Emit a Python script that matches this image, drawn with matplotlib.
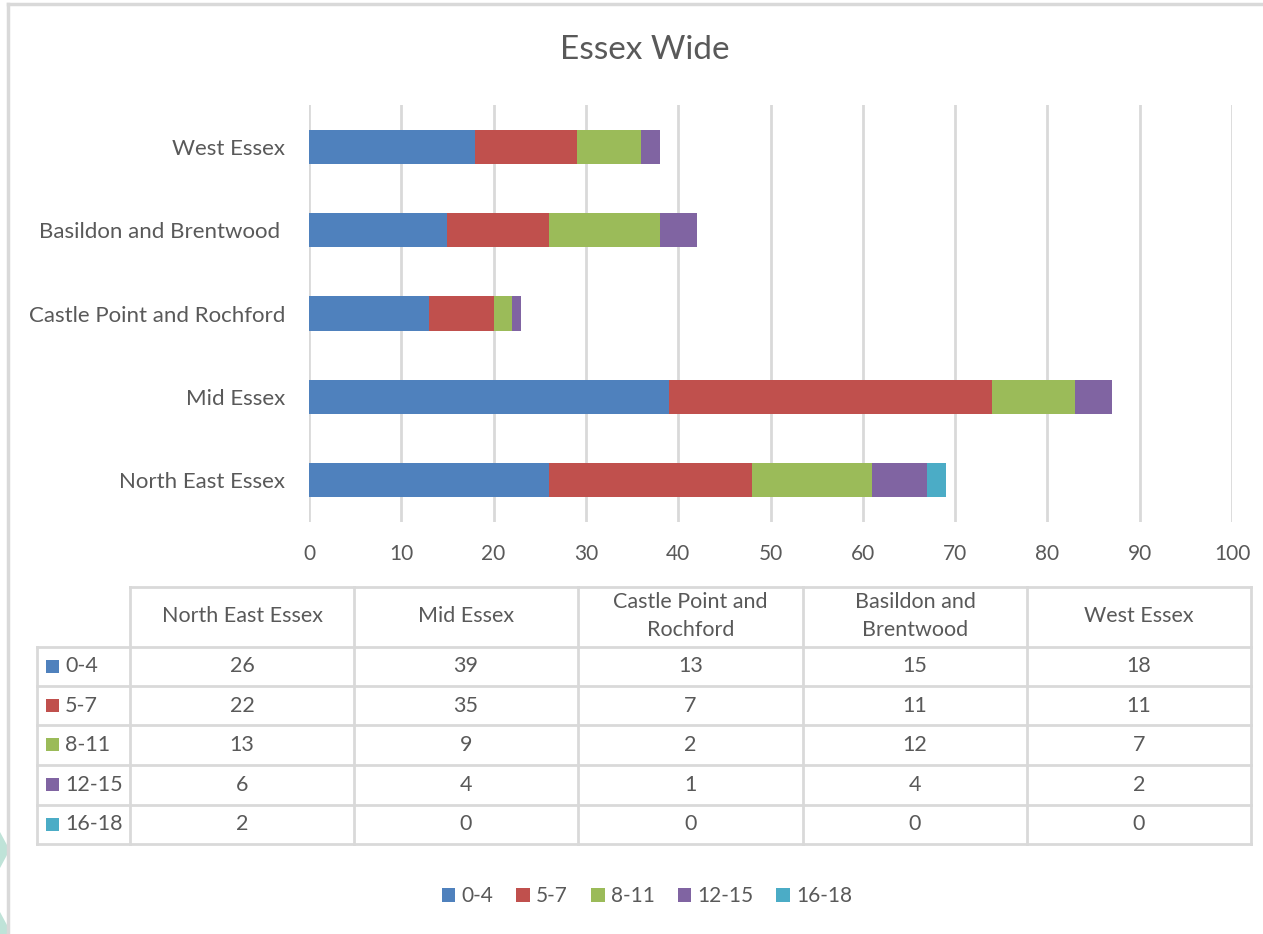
import matplotlib
matplotlib.use("Agg")
import matplotlib.pyplot as plt
from matplotlib.lines import Line2D
from matplotlib.patches import Rectangle, Polygon
import numpy as np

plt.rcParams['font.family'] = ['Lato', 'DejaVu Sans']

# ---------------- data ----------------
regions = ["North East Essex", "Mid Essex", "Castle Point and Rochford",
           "Basildon and Brentwood ", "West Essex"]
table_headers = ["North East Essex", "Mid Essex", "Castle Point and\nRochford",
                 "Basildon and\nBrentwood", "West Essex"]
series_names = ["0-4", "5-7", "8-11", "12-15", "16-18"]
age_0_4 = [26, 39, 13, 15, 18]
age_5_7 = [22, 35, 7, 11, 11]
age_8_11 = [13, 9, 2, 12, 7]
age_12_15 = [6, 4, 1, 4, 2]
age_16_18 = [2, 0, 0, 0, 0]
series_values = [age_0_4, age_5_7, age_8_11, age_12_15, age_16_18]
colors = ["#4F81BD", "#C0504D", "#9BBB59", "#8064A2", "#4BACC6"]
xticks = [0, 10, 20, 30, 40, 50, 60, 70, 80, 90, 100]
title = "Essex Wide"

W, H = 1263, 934
TXT = "#595959"
GRID = "#D9D9D9"

fig = plt.figure(figsize=(W / 100, H / 100), dpi=100)

def fx(x):
    return x / W

def fy(y):
    return 1 - y / H

# frame lines and decorations
fig.add_artist(Line2D([fx(8), fx(W)], [fy(4), fy(4)], color=GRID, lw=2.5))
fig.add_artist(Line2D([fx(8), fx(8)], [fy(4), fy(H)], color=GRID, lw=2.5))
for cy in (850, 930):
    pts = [(fx(-10), fy(cy - 18)), (fx(0), fy(cy - 18)), (fx(7), fy(cy - 5)),
           (fx(7), fy(cy + 5)), (fx(0), fy(cy + 18)), (fx(-10), fy(cy + 18))]
    fig.add_artist(Polygon(pts, closed=True, facecolor="#BFE3D8", edgecolor="none"))

# ---------------- chart ----------------
ax = fig.add_axes([fx(309), fy(522), fx(1232) - fx(309), fy(105) - fy(522)])
y = np.arange(len(regions))
left = np.zeros(len(regions))
bars = []
for name, vals, c in zip(series_names, series_values, colors):
    b = ax.barh(y, vals, left=left, height=0.41, color=c, label=name, zorder=3)
    bars.append(b)
    left += np.array(vals)

ax.set_xlim(0, 100)
ax.set_ylim(-0.5, len(regions) - 0.5)
ax.set_xticks(xticks)
ax.set_xticklabels([str(t) for t in xticks])
ax.set_yticks(y)
ax.set_yticklabels(regions)
ax.tick_params(axis='both', length=0, colors=TXT)
ax.tick_params(axis='x', pad=16, labelsize=15)
ax.tick_params(axis='y', pad=17, labelsize=16)
ax.grid(axis='x', color=GRID, lw=2, zorder=0)
for s in ax.spines.values():
    s.set_visible(False)

fig.text(fx(645), fy(50), title, ha='center', va='center', fontsize=24, color=TXT)

# ---------------- data table ----------------
col_x = [37, 130, 354, 578, 803, 1027, 1251]
row_y = [587, 647, 686, 725, 765, 805, 844]
lw_t = 2
# horizontal lines
fig.add_artist(Line2D([fx(130), fx(1251)], [fy(587), fy(587)], color=GRID, lw=lw_t))
for ry in row_y[1:]:
    fig.add_artist(Line2D([fx(37), fx(1251)], [fy(ry), fy(ry)], color=GRID, lw=lw_t))
# vertical lines
fig.add_artist(Line2D([fx(37), fx(37)], [fy(647), fy(844)], color=GRID, lw=lw_t))
for cx in col_x[1:]:
    fig.add_artist(Line2D([fx(cx), fx(cx)], [fy(587), fy(844)], color=GRID, lw=lw_t))

for j, h in enumerate(table_headers):
    cx = (col_x[j + 1] + col_x[j + 2]) / 2
    fig.text(fx(cx), fy(616), h, ha='center', va='center', fontsize=15.5,
             color=TXT, linespacing=1.45)

for i, (name, vals, c) in enumerate(zip(series_names, series_values, colors)):
    cy = (row_y[i + 1] + row_y[i + 2]) / 2
    fig.add_artist(Rectangle((fx(46), fy(cy + 6)), 13 / W, 13 / H,
                             facecolor=c, edgecolor='none'))
    fig.text(fx(65), fy(cy), name, ha='left', va='center', fontsize=15.5, color=TXT)
    for j, v in enumerate(vals):
        cx = (col_x[j + 1] + col_x[j + 2]) / 2
        fig.text(fx(cx), fy(cy), str(v), ha='center', va='center', fontsize=15.5, color=TXT)

# ---------------- legend ----------------
leg = fig.legend(handles=bars, labels=series_names, loc='center',
                 bbox_to_anchor=(fx(647), fy(896)), ncol=5, frameon=False,
                 fontsize=15, handlelength=0.65, handleheight=0.65,
                 handletextpad=0.3, columnspacing=1.1)
for t in leg.get_texts():
    t.set_color(TXT)

fig.savefig("out.png", dpi=100)
